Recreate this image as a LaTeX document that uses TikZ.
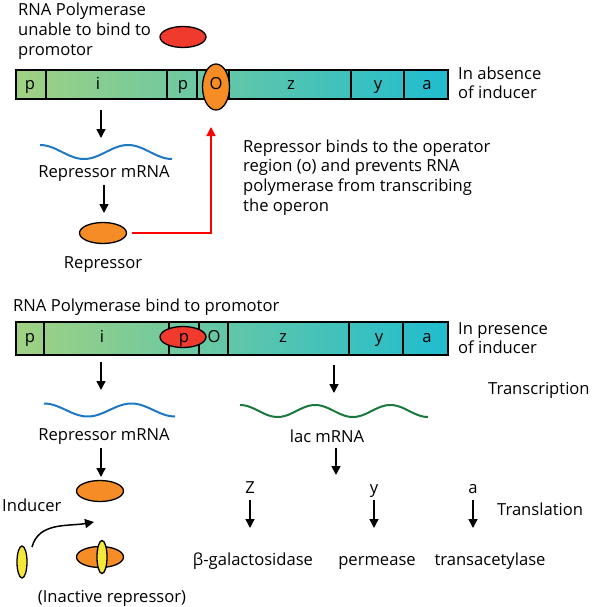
\documentclass[tikz,border=0pt]{standalone}
\usepackage{fontspec}
\setmainfont{Open Sans}
\usetikzlibrary{arrows.meta, positioning, shapes.geometric}
\definecolor{geneleft}{RGB}{160,209,130}
\definecolor{generight}{RGB}{32,188,208}
\definecolor{polred}{RGB}{240,58,45}
\definecolor{reporange}{RGB}{245,140,38}
\definecolor{indyellow}{RGB}{245,232,58}
\definecolor{mrnablue}{RGB}{30,120,195}
\definecolor{mrnagreen}{RGB}{25,120,60}
\tikzset{
  every node/.style={inner sep=0pt, font=\fontsize{16.6}{19.7}\selectfont},
  arr/.style={-{Triangle[length=9pt,width=9pt]}, line width=1.5pt},
  redarr/.style={arr, red, line width=1.3pt},
  blob/.style={ellipse, draw, line width=1.3pt},
  polymerase/.style={blob, fill=polred, minimum width=46pt, minimum height=21pt},
  repressor/.style={blob, fill=reporange, minimum width=47pt, minimum height=21pt},
  inducer/.style={blob, fill=indyellow, minimum width=10pt, minimum height=32pt},
  txt/.style={anchor=base west, align=left},
  lbl/.style={anchor=base},
  bar/.style={line width=1.3pt},
  wave/.style={line width=2pt},
}

\begin{document}
\begin{tikzpicture}[x=1pt, y=-1pt]
  \useasboundingbox (0,0) rectangle (592,607);

  % operon without inducer (multi-line texts sit on their last line)
  \shade[left color=geneleft, right color=generight] (16,70) rectangle (448,99);
  \draw[bar] (16,70) rectangle (448,99);
  \foreach \d in {46,167,197,229,351,404}
    \draw[bar] (\d,70) -- (\d,99);
  \node[repressor, minimum width=27pt, minimum height=46pt] (opbound) at (216,87) {};
  \foreach \n/\x/\t in {p1/30/p, i1/98/i, pp1/183/p, o1/216/O, z1/291/z, y1/378/y, a1/427/a}
    \node[lbl] (g\n) at (\x,90) {\t};
  \node[polymerase] (pol1) at (183,37) {};
  \node[txt] (poltxt1) at (18,55.4) {RNA Polymerase\\unable to bind to\\promotor};
  \node[txt] (absence) at (458,98.7) {In absence\\of inducer};

  % repressor path
  \coordinate (a1s) at (101,110);
  \coordinate (a1e) at (101,138);
  \draw[arr] (a1s) -- (a1e);
  \draw[wave, mrnablue] plot[domain=40:172, samples=80] (\x, {152-7*cos(4.0909*(\x-40))});
  \node[lbl] (rmrna1) at (104,177) {Repressor mRNA};
  \coordinate (a2s) at (104,185);
  \coordinate (a2e) at (104,213);
  \draw[arr] (a2s) -- (a2e);
  \node[repressor] (rep1) at (103,233) {};
  \node[lbl] (replbl) at (103,268) {Repressor};
  \coordinate (optip) at (211,127);
  \draw[redarr, shorten <=5pt] (rep1.east) -| (optip);
  \node[txt] (binds) at (243,211.1) {Repressor binds to the operator\\region (o) and prevents RNA\\polymerase from transcribing\\the operon};

  % operon with inducer
  \node[txt] (poltxt2) at (13,311) {RNA Polymerase bind to promotor};
  \shade[left color=geneleft, right color=generight] (16,322) rectangle (448,355);
  \draw[bar] (16,322) rectangle (448,355);
  \foreach \d in {44,169,199,228,349,403}
    \draw[bar] (\d,322) -- (\d,355);
  \node[polymerase] (pol2) at (183,337) {};
  \foreach \n/\x/\t in {p2/30/p, i2/102/i, pp2/184/p, o2/214/O, z2/283/z, y2/379/y, a2/427/a}
    \node[lbl] (g\n) at (\x,342) {\t};
  \node[txt] (presence) at (458,353.7) {In presence\\of inducer};

  % repressor is made but inactivated
  \coordinate (a3s) at (101,362);
  \coordinate (a3e) at (101,390);
  \draw[arr] (a3s) -- (a3e);
  \draw[wave, mrnablue] plot[domain=44:175, samples=80] (\x, {410-6.5*cos(4.119*(\x-44))});
  \node[lbl] (rmrna2) at (104,440) {Repressor mRNA};
  \coordinate (a4s) at (101,448);
  \coordinate (a4e) at (101,477);
  \draw[arr] (a4s) -- (a4e);
  \node[repressor] (rep2) at (100,491) {};
  \node[txt] (indlbl) at (2,511) {Inducer};
  \node[inducer] (ind) at (22,562) {};
  \coordinate (bendA) at (32,547);
  \coordinate (bendB) at (94,522);
  \draw[arr] (bendA) to[out=75, in=190] (bendB);
  \node[repressor] (rep3) at (100,557) {};
  \node[inducer, minimum height=33pt] (ind3) at (102,557) {};
  \node[lbl] (inactive) at (112,602) {(Inactive repressor)};

  % lac genes
  \coordinate (a5s) at (334,365);
  \coordinate (a5e) at (334,393);
  \draw[arr] (a5s) -- (a5e);
  \node[txt] (transcr) at (488,394) {Transcription};
  \draw[wave, mrnagreen] plot[domain=240:428, samples=120] (\x, {411-6*cos(4.787*(\x-240))});
  \node[lbl] (lacmrna) at (327,442) {lac mRNA};
  \coordinate (a6s) at (336,448);
  \coordinate (a6e) at (336,475);
  \draw[arr] (a6s) -- (a6e);
  \foreach \n/\x/\t in {z/250/Z, y/374/y, a/473/a} {
    \node[lbl] (t\n) at (\x,493) {\t};
    \coordinate (s\n) at (\x,500);
    \coordinate (e\n) at (\x,528);
    \draw[arr] (s\n) -- (e\n);
  }
  \node[lbl] (galact) at (253,565) {β-galactosidase};
  \node[lbl] (perm) at (377,565) {permease};
  \node[lbl] (trans) at (490,565) {transacetylase};
  \node[txt] (transl) at (497,515) {Translation};
\end{tikzpicture}
\end{document}
